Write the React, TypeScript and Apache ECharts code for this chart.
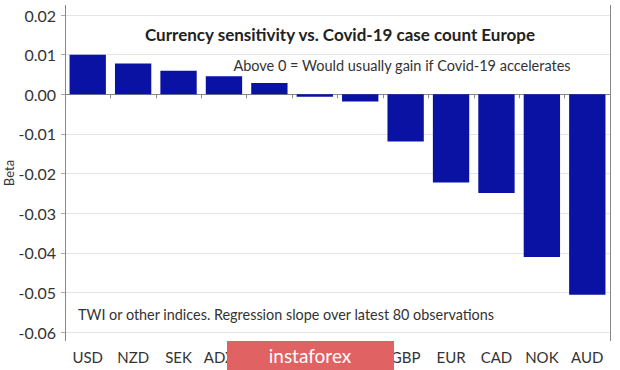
import React, { useEffect, useRef } from "react";
import * as echarts from "echarts";

// 12 bars (the 4th-7th labels are partly hidden by the watermark in the reference)
const currencies = ["USD", "NZD", "SEK", "ADXY", "DXY", "CHF", "JPY", "GBP", "EUR", "CAD", "NOK", "AUD"];
const betaValues = [0.01, 0.00775, 0.0059, 0.00455, 0.00285, -0.0006, -0.0018, -0.0119, -0.0223, -0.0249, -0.0411, -0.0506];
const yTicks = { min: -0.06, max: 0.02, step: 0.01 };

const yAxisName = "Beta";
const titleText = "Currency sensitivity vs. Covid-19 case count Europe";
const subtitleText = "Above 0 = Would usually gain if Covid-19 accelerates";
const footnoteText = "TWI or other indices. Regression slope over latest 80 observations";
const watermarkText = "instaforex";

export default function App() {
  const ref = useRef<HTMLDivElement>(null);
  useEffect(() => {
    document.body.style.margin = "0";
    if (!ref.current) return;
    const chart = echarts.init(ref.current, null, { renderer: "svg" });
    const font = "Lato, 'Noto Sans', sans-serif";
    chart.setOption({
      animation: false,
      backgroundColor: "#ffffff",
      grid: { left: 65, right: 10, top: 15, bottom: 38, containLabel: false, outerBoundsMode: "none" },
      xAxis: {
        type: "category",
        data: currencies,
        offset: 9,
        axisLine: { show: true, lineStyle: { color: "#888888", width: 1 } },
        axisTick: { show: true, length: 4, lineStyle: { color: "#888888" } },
        axisLabel: { color: "#333333", fontSize: 15, fontFamily: font, margin: 8, interval: 0 },
      },
      yAxis: {
        type: "value",
        min: yTicks.min,
        max: yTicks.max,
        interval: yTicks.step,
        axisLine: { show: false },
        axisTick: { show: true, length: 4, lineStyle: { color: "#aaaaaa" } },
        axisLabel: {
          color: "#333333",
          fontSize: 16,
          fontFamily: font,
          margin: 9,
          formatter: (v: number) => v.toFixed(2),
        },
        splitLine: { show: true, lineStyle: { color: "#e6e4ea", width: 1 } },
      },
      series: [
        {
          type: "bar",
          data: betaValues,
          barCategoryGap: "20%",
          itemStyle: { color: "#0a12a4" },
        },
      ],
      graphic: [
        { type: "line", shape: { x1: 65.5, y1: 5, x2: 65.5, y2: 341 }, style: { stroke: "#888888", lineWidth: 1 }, z: 10 },
        { type: "line", shape: { x1: 610.5, y1: 5, x2: 610.5, y2: 341 }, style: { stroke: "#888888", lineWidth: 1 }, z: 10 },
        {
          type: "text",
          x: 9,
          y: 173,
          rotation: Math.PI / 2,
          style: { text: yAxisName, fontSize: 13, fontFamily: font, fill: "#333333", align: "center", verticalAlign: "middle" },
          z: 20,
        },
        {
          type: "text",
          x: 340,
          y: 34,
          style: { text: titleText, fontSize: 17, fontWeight: "bold", fontFamily: font, fill: "#222222", align: "center", verticalAlign: "middle" },
          z: 20,
        },
        {
          type: "text",
          x: 402,
          y: 65,
          style: { text: subtitleText, fontSize: 14.5, fontFamily: font, fill: "#333333", align: "center", verticalAlign: "middle" },
          z: 20,
        },
        {
          type: "text",
          x: 78,
          y: 314,
          style: { text: footnoteText, fontSize: 14.4, fontFamily: font, fill: "#333333", align: "left", verticalAlign: "middle" },
          z: 20,
        },
        { type: "rect", shape: { x: 227, y: 341, width: 167, height: 29 }, style: { fill: "#e06262" }, z: 30 },
        {
          type: "text",
          x: 310,
          y: 355,
          style: { text: watermarkText, fontSize: 19, fontFamily: font, fill: "#ffffff", align: "center", verticalAlign: "middle" },
          z: 31,
        },
      ],
    });
    return () => chart.dispose();
  }, []);
  return <div ref={ref} style={{ width: 620, height: 370 }} />;
}
